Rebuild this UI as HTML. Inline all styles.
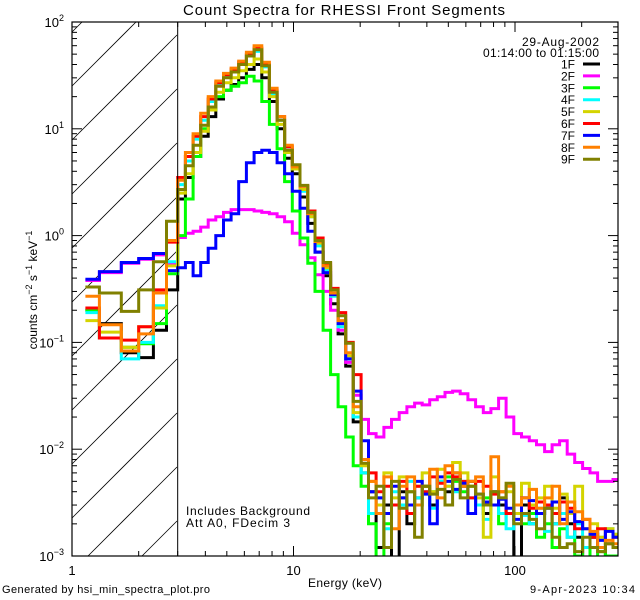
<!DOCTYPE html>
<html><head><meta charset="utf-8"><style>
html,body{margin:0;padding:0;background:#fff;width:640px;height:600px;overflow:hidden;}
svg{display:block;font-family:"Liberation Sans",sans-serif;overflow:hidden;}
</style></head><body>
<svg id="chart" width="640" height="600" viewBox="0 0 640 600">
<rect width="640" height="600" fill="#fff"/>
<text x="344" y="15" text-anchor="middle" font-size="15" textLength="322">Count Spectra for RHESSI Front Segments</text>
<defs><clipPath id="plotclip"><rect x="72" y="22" width="546" height="534"/></clipPath></defs>
<g id="hatch"></g>
<g id="series" clip-path="url(#plotclip)"></g>
<g id="axes"></g>
<text x="186" y="515" font-size="12" textLength="124">Includes Background</text>
<text x="186" y="527" font-size="12" textLength="104">Att A0, FDecim 3</text>
<text x="599" y="46" text-anchor="end" font-size="12" textLength="77">29-Aug-2002</text>
<text x="599" y="57" text-anchor="end" font-size="12" textLength="116">01:14:00 to 01:15:00</text>
<g id="legend"></g>
<text x="345" y="587" text-anchor="middle" font-size="12" textLength="74">Energy (keV)</text>
<text transform="translate(37,290) rotate(-90)" text-anchor="middle" font-size="12">counts cm<tspan dy="-5" font-size="9">−2</tspan><tspan dy="5"> s</tspan><tspan dy="-5" font-size="9">−1</tspan><tspan dy="5"> keV</tspan><tspan dy="-5" font-size="9">−1</tspan></text>
<text x="2" y="593" font-size="11" textLength="208">Generated by hsi_min_spectra_plot.pro</text>
<text x="635" y="593" text-anchor="end" font-size="11" textLength="105">9-Apr-2023 10:34</text>
</svg>
<script>
const edges = [1.15,1.33,1.67,2,2.33,2.67,3,3.25,3.52,3.81,4.12,4.46,4.83,5.23,5.66,6.13,6.64,7.19,7.78,8.43,9.12,9.88,10.7,11.6,12.5,13.6,14.7,15.9,17.2,18.6,20.2,21.8,23.6,25.6,27.7,30.0,32.5,35.2,38.1,41.2,44.6,48.3,52.3,56.6,61.3,66.4,71.9,77.8,84.3,91.2,98.8,107,116,125,136,147,159,172,186,202,218,236,256,277,300];
const seriesNames = ["1F","2F","3F","4F","5F","6F","7F","8F","9F"];
const seriesColors = ["#000000","#ff00ff","#00ff00","#00ffff","#d4d400","#ff0000","#0000ff","#ff8000","#808000"];
const s1F = [0.2,0.15,0.08,0.072,0.13,0.31, 2.2,3.5,5.5,8.5,13,19,23,26,30,36,40,30,18,10,5.3,3.8,2.3,1.3,0.7,0.42,0.23,0.12,0.06,0.018,0.006,
 0.004,0.0012,0.003,0.0008,0.004,0.002,0.0035,0.0045,0.003,0.005,0.004,0.006,0.0045,0.005,0.003,0.0025,0.004,0.003,0.0025,0.0009,0.003,0.002,0.0025,0.003,0.002,0.0035,0.002,0.0015,0.0008,0.0015,0.0012,0.001,0.001];
const s2F = [0.38,0.45,0.55,0.6,0.66,0.55, 0.96,1.05,1.1,1.2,1.4,1.5,1.65,1.75,1.75,1.75,1.7,1.65,1.6,1.5,1.35,1.05,0.82,0.62,0.43,0.3,0.2,0.13,0.065,0.032,0.019,
 0.014,0.013,0.016,0.019,0.022,0.025,0.027,0.026,0.029,0.031,0.034,0.035,0.033,0.029,0.025,0.022,0.024,0.030,0.020,0.014,0.013,0.012,0.011,0.0095,0.011,0.012,0.009,0.0075,0.0066,0.006,0.005,0.005,0.0052];
const s3F = [0.2,0.11,0.09,0.097,0.15,0.44, 1.0,2.2,5.5,10,15,20,23,25,27,31,28,18,11,6.5,3.2,1.7,0.95,0.55,0.3,0.13,0.05,0.025,0.013,0.007,0.0045,
 0.002,0.0009,0.002,0.003,0.0035,0.004,0.003,0.0045,0.004,0.005,0.0055,0.005,0.004,0.0045,0.003,0.0035,0.003,0.002,0.0025,0.003,0.002,0.0025,0.0015,0.002,0.0012,0.0018,0.0015,0.001,0.0012,0.0009,0.0011,0.001,0.001];
const s4F = [0.19,0.11,0.07,0.1,0.22,0.57, 3.0,5,8,12,18,26,31,35,41,48,53,38,21,12,6.3,4.2,2.6,1.5,0.8,0.48,0.27,0.14,0.07,0.02,0.006,
 0.0025,0.0035,0.0018,0.004,0.003,0.005,0.0035,0.004,0.0028,0.005,0.0045,0.004,0.005,0.0035,0.003,0.0022,0.003,0.0025,0.0018,0.003,0.0024,0.002,0.0028,0.0017,0.002,0.0025,0.0015,0.002,0.0012,0.0016,0.0015,0.0018,0.0016];
const s5F = [0.16,0.125,0.09,0.14,0.21,0.52, 2.5,3.8,6,9.5,15,22,27,30,35,40,45,34,20,11,6.0,4.2,2.7,1.5,0.85,0.5,0.28,0.15,0.075,0.022,0.007,
 0.005,0.003,0.006,0.0035,0.0055,0.003,0.0045,0.006,0.004,0.0065,0.0045,0.0075,0.006,0.0045,0.0035,0.0015,0.0055,0.0035,0.004,0.0025,0.0048,0.003,0.0035,0.0045,0.0028,0.0038,0.0025,0.0045,0.0018,0.002,0.0015,0.0018,0.0016];
const s6F = [0.21,0.11,0.105,0.14,0.31,0.87, 3.5,5.5,8.5,13,19,27,32,36,42,50,57,40,23,13,6.8,4.5,2.9,1.7,0.95,0.55,0.32,0.19,0.10,0.05,0.008,
 0.006,0.004,0.0045,0.003,0.005,0.0025,0.0045,0.004,0.0055,0.0048,0.006,0.0055,0.005,0.0035,0.005,0.0045,0.0038,0.004,0.0025,0.003,0.0035,0.0028,0.0032,0.003,0.0025,0.0032,0.0028,0.0018,0.0022,0.0015,0.0018,0.0013,0.0015];
const s7F = [0.39,0.46,0.56,0.61,0.68,0.47, 0.50,0.56,0.42,0.56,0.76,1.0,1.4,1.6,3.2,4.8,6.0,6.3,6.0,4.8,3.8,2.6,1.8,1.1,0.7,0.45,0.28,0.15,0.07,0.035,0.012,
 0.004,0.0035,0.0025,0.0045,0.0035,0.003,0.005,0.0038,0.002,0.0055,0.005,0.0042,0.0048,0.0025,0.0038,0.0032,0.003,0.0034,0.0028,0.0022,0.0035,0.0033,0.0025,0.0028,0.0032,0.0022,0.0026,0.0021,0.0018,0.0016,0.0014,0.0017,0.0015];
const s8F = [0.27,0.146,0.083,0.12,0.29,0.9, 3.3,6,9,14,20,28,33,37,43,52,60,42,24,13,7,4.4,2.9,1.6,0.88,0.52,0.29,0.16,0.08,0.025,0.008,
 0.005,0.0025,0.0055,0.0018,0.0045,0.0055,0.003,0.0045,0.0065,0.0035,0.007,0.006,0.0045,0.005,0.0055,0.003,0.0085,0.004,0.0045,0.003,0.0035,0.0042,0.0028,0.0035,0.0045,0.002,0.0032,0.0026,0.0022,0.0017,0.0012,0.0014,0.0013];
const s9F = [0.33,0.29,0.195,0.31,0.57,1.36, 2.7,4.5,7.0,10.8,16,25,30,34,40,48,55,39,22,12,6.3,4.6,2.95,1.65,0.9,0.56,0.31,0.178,0.098,0.028,0.0074,
 0.0035,0.0045,0.0012,0.005,0.0028,0.004,0.0015,0.0045,0.0038,0.0042,0.003,0.0052,0.0035,0.0045,0.0038,0.003,0.004,0.0035,0.0048,0.002,0.0025,0.0022,0.0018,0.0028,0.0015,0.0012,0.0013,0.0011,0.0015,0.0012,0.0011,0.0013,0.0012];
const seriesValues = [s1F,s2F,s3F,s4F,s5F,s6F,s7F,s8F,s9F];
const xTickValues = [1,10,100];
const xTickLabels = ["1","10","100"];
const yTickExps = [2,1,0,-1,-2,-3];

const NS="http://www.w3.org/2000/svg";
const L=72,R=618,T=22,B=556;
function xs(e){return 72+221.5*Math.log10(e);}
function ys(v){v=Math.max(v,0.0009);return T+(2-Math.log10(v))*((B-T)/5);}
function mk(tag,attrs,parent){const el=document.createElementNS(NS,tag);for(const k in attrs)el.setAttribute(k,attrs[k]);parent.appendChild(el);return el;}

// hatch lines y = c - x, clipped manually to [72,177]x[22,556]
const hatch=document.getElementById('hatch');
const HX0=72,HX1=177,HY0=22,HY1=556;
for(let c=158-54*3;c<800;c+=54){
  let xa=Math.max(HX0,c-HY1), xb=Math.min(HX1,c-HY0);
  if(xb<=xa) continue;
  const ln=mk('line',{x1:xa,y1:c-xa,x2:xb,y2:c-xb,stroke:'#000','stroke-width':0.8},hatch);
  
  
}
const axes=document.getElementById('axes');
const vl=mk('line',{x1:xs(3),y1:T,x2:xs(3),y2:B,stroke:'#000','stroke-width':1},axes);



const sg=document.getElementById('series');
seriesValues.forEach((vals,si)=>{
  let d='';
  for(let i=0;i<vals.length;i++){
    const x0=xs(edges[i]),x1=Math.min(xs(edges[i+1]),R+2),y=ys(vals[i]);
    d+=(i===0?'M':'L')+x0.toFixed(1)+','+y.toFixed(1)+'L'+x1.toFixed(1)+','+y.toFixed(1);
  }
  const p=mk('path',{d:d,fill:'none',stroke:seriesColors[si],'stroke-width':3,'stroke-linejoin':'miter'},sg);
  
  
});

const lg=document.getElementById('legend');
seriesNames.forEach((n,i)=>{
  const y=64+i*11.9;
  const t=mk('text',{x:575,y:y+4.5,'text-anchor':'end','font-size':12},lg);
  t.textContent=n;
  
  
  const ln=mk('line',{x1:583,y1:y,x2:600,y2:y,stroke:seriesColors[i],'stroke-width':3},lg);
  
  
});

const fr=mk('rect',{x:L,y:T,width:R-L,height:B-T,fill:'none',stroke:'#000','stroke-width':1.2},axes);



for(let dec=1;dec<=100;dec*=10){
  for(let m=1;m<10;m++){
    const e=dec*m; const x=xs(e); if(x>R) break;
    const len=(m===1)?10:5;
    mk('line',{x1:x,y1:B,x2:x,y2:B-len,stroke:'#000','stroke-width':1},axes);
    mk('line',{x1:x,y1:T,x2:x,y2:T+len,stroke:'#000','stroke-width':1},axes);
  }
}
xTickValues.forEach((v,i)=>{
  const t=mk('text',{x:xs(v),y:575,'text-anchor':'middle','font-size':13},axes);
  t.textContent=xTickLabels[i];
  
  
});
for(let ex=-3;ex<2;ex++){
  for(let m=1;m<10;m++){
    const y=ys(m*Math.pow(10,ex));
    const len=(m===1)?10:5;
    mk('line',{x1:L,y1:y,x2:L+len,y2:y,stroke:'#000','stroke-width':1},axes);
    mk('line',{x1:R,y1:y,x2:R-len,y2:y,stroke:'#000','stroke-width':1},axes);
  }
}
yTickExps.forEach(ex=>{
  const y=ys(Math.pow(10,ex));
  const t=mk('text',{x:64,y:y+5,'text-anchor':'end','font-size':13},axes);
  t.innerHTML='10<tspan dy="-6" font-size="9">'+(ex<0?'−'+(-ex):ex)+'</tspan>';
  
  
});
</script>
</body></html>
